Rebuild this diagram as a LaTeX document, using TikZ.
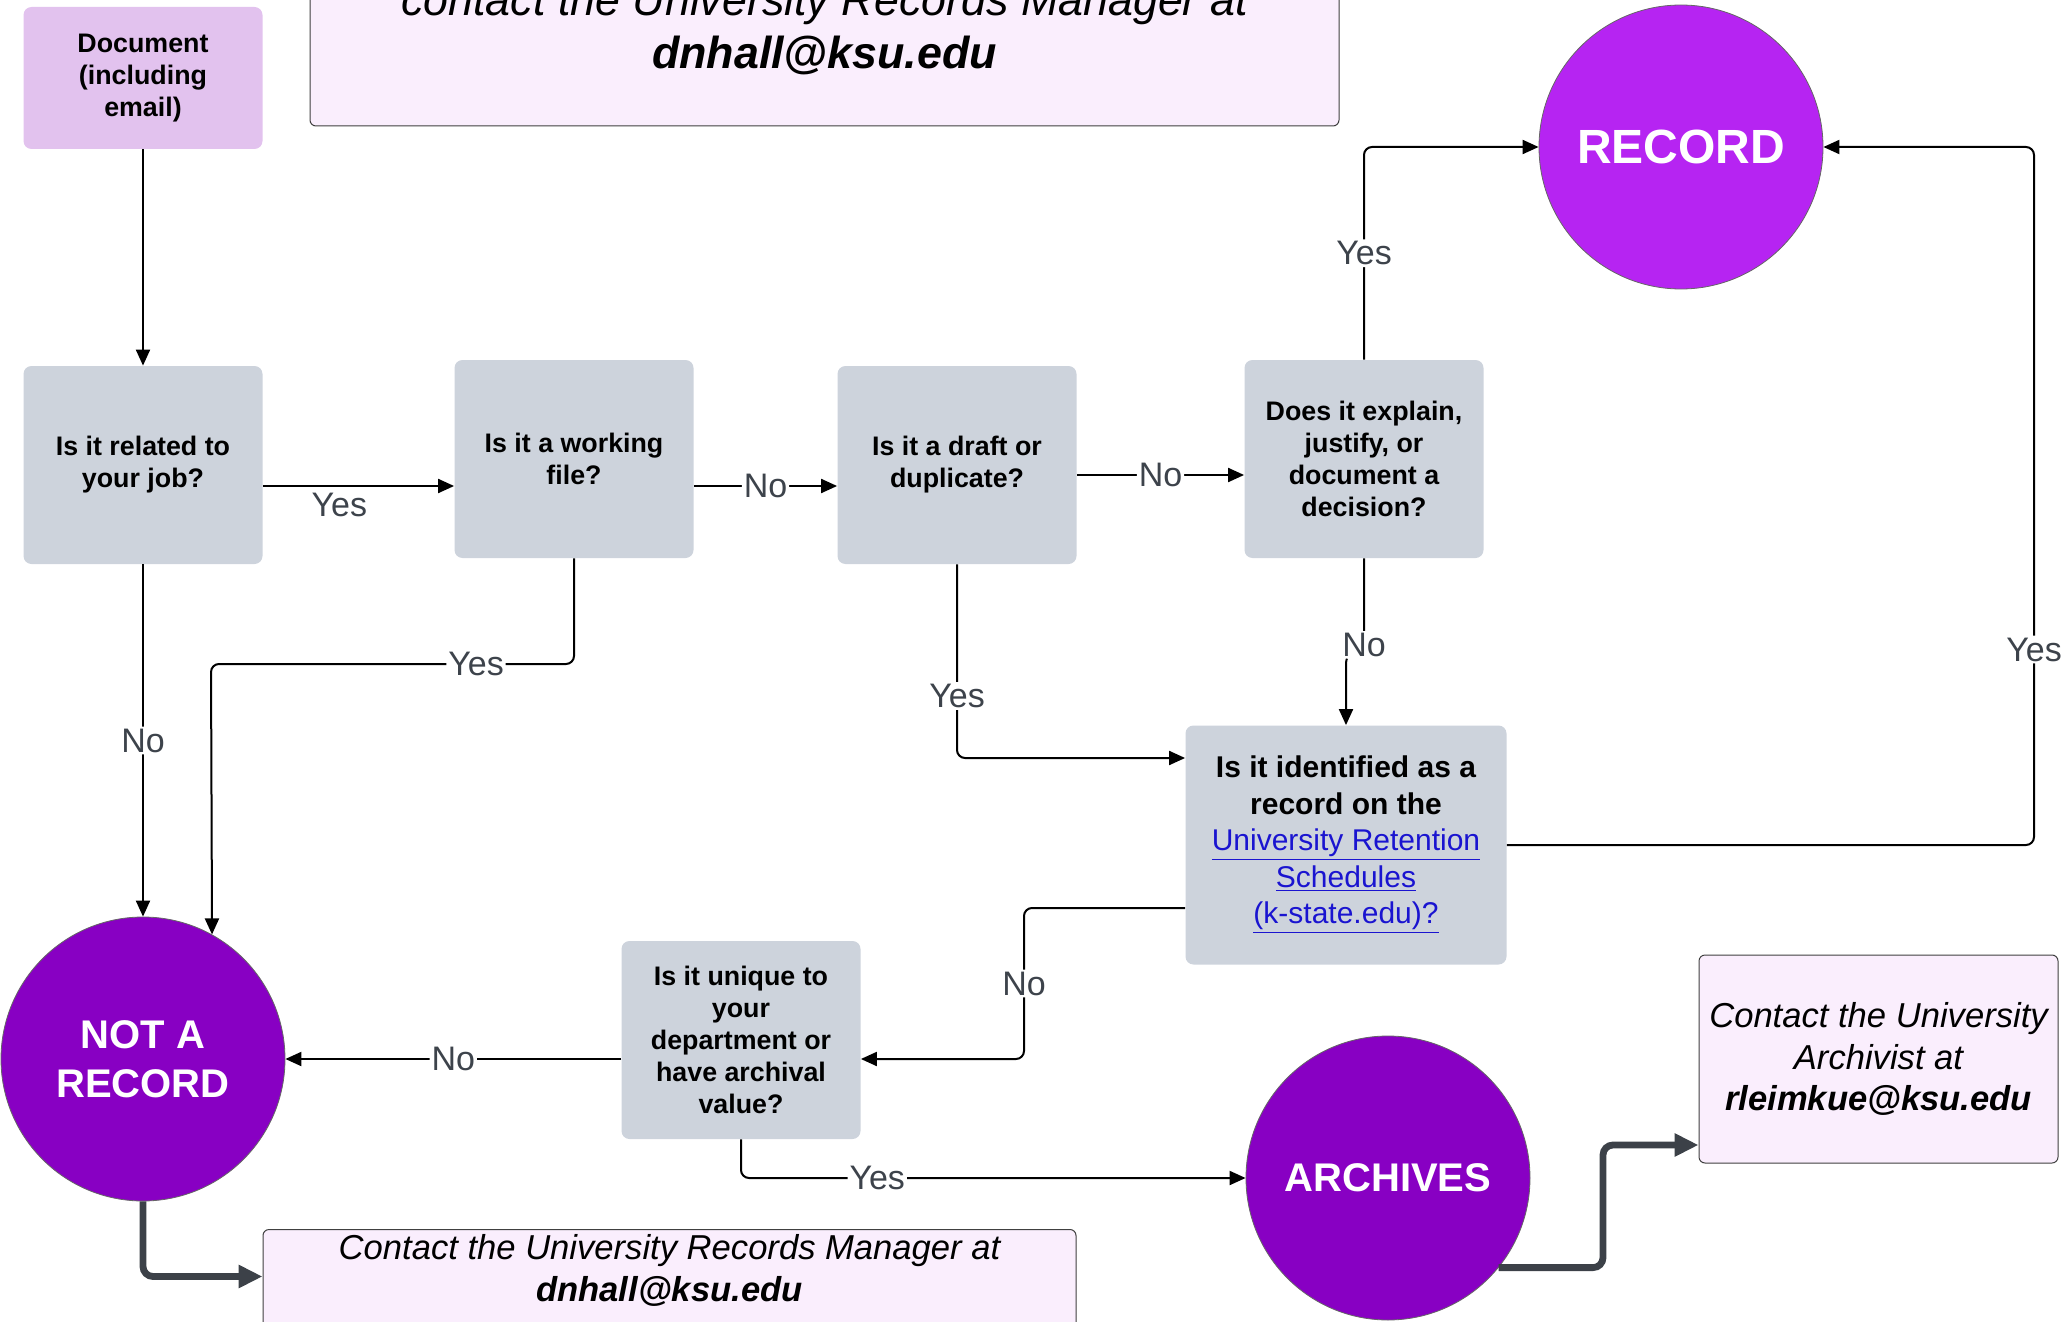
\documentclass[tikz,border=0pt]{standalone}
\usepackage{fontspec}
\setmainfont{Liberation Sans}
\usepackage{tikz}
\usetikzlibrary{positioning, arrows.meta}

\definecolor{qgray}{HTML}{CDD3DC}
\definecolor{docpurple}{HTML}{E2C2EE}
\definecolor{recpurple}{HTML}{B624F2}
\definecolor{endpurple}{HTML}{8800C3}
\definecolor{notefill}{HTML}{FAEEFD}
\definecolor{labelgray}{HTML}{3D434B}
\definecolor{pipegray}{HTML}{3C4148}
\definecolor{linkblue}{HTML}{1A14D0}

\newcommand{\linktext}[1]{\textcolor{linkblue}{\mdseries\underline{#1}}}

\begin{document}
\begin{tikzpicture}[
    x=0.5pt, y=-0.5pt,
    question/.style={rectangle, rounded corners=4pt, fill=qgray, minimum width=119.5pt,
        minimum height=99pt, align=center, inner sep=2pt,
        font=\fontsize{13.4}{16}\selectfont\bfseries},
    start/.style={question, fill=docpurple, minimum height=71pt},
    outcome/.style={circle, draw=black!60, line width=0.4pt, fill=endpurple, minimum size=142pt,
        align=center, text=white, font=\fontsize{20}{24.3}\selectfont\bfseries},
    note/.style={rectangle, rounded corners=3pt, draw=black!75, line width=0.5pt, fill=notefill,
        align=center, inner sep=2pt, font=\fontsize{17.3}{20.6}\selectfont\itshape},
    flow/.style={draw, line width=1pt, rounded corners=4pt, -{Triangle[length=8pt, width=7pt]}},
    pipe/.style={draw=pipegray, line width=3.4pt, rounded corners=5pt, -{Triangle[length=12pt, width=11pt]}},
    answer/.style={fill=white, inner sep=1pt, text=labelgray, font=\fontsize{17}{19}\selectfont}
]
    \useasboundingbox (0,0) rectangle (2063,1322);
    \clip (0,0) rectangle (2063,1322);

    \node[start] (doc) at (143,78) {Document\\(including\\email)};
    \node[note, minimum width=514.5pt, minimum height=97pt,
          font=\fontsize{22.4}{26.5}\selectfont\itshape] (topnote) at (824.5,29)
          {contact the University Records Manager at\\\textbf{dnhall@ksu.edu}};
    \node[outcome, fill=recpurple, font=\fontsize{24}{28}\selectfont\bfseries] (record) at (1681,147) {RECORD};

    \node[question] (job)      at (143,465)  {Is it related to\\your job?};
    \node[question] (working)  at (574,459)  {Is it a working\\file?};
    \node[question] (draft)    at (957,465)  {Is it a draft or\\duplicate?};
    \node[question] (decision) at (1364,459) {Does it explain,\\justify, or\\document a\\decision?};
    \node[question, minimum width=160.5pt, minimum height=119.5pt,
          font=\fontsize{15}{18.2}\selectfont\bfseries] (schedule) at (1346,845)
          {Is it identified as a\\record on the\\\linktext{University Retention}\\\linktext{Schedules}\\\linktext{(k-state.edu)?}};
    \node[question] (unique)   at (741,1040) {Is it unique to\\your\\department or\\have archival\\value?};

    \node[outcome] (notrecord) at (143,1059)  {NOT A\\RECORD};
    \node[outcome] (archives)  at (1388,1178) {ARCHIVES};

    \node[note, minimum width=179.5pt, minimum height=104pt] (archivist) at (1878.5,1059)
          {Contact the University\\Archivist at\\\textbf{rleimkue@ksu.edu}};
    \node[note, minimum width=406.5pt, minimum height=60pt, anchor=north] (manager) at (669.5,1229) {};
    \node[note, draw=none, fill=none] (managertext) at (669.5,1270.5)
          {Contact the University Records Manager at\\\textbf{dnhall@ksu.edu}};

    \coordinate (rightrail) at (2034,147);
    \coordinate (leftrail)  at (211,664);
    \coordinate (midrail)   at (1024,1059);
    \coordinate (pipebend)  at (1603,1145);

    \draw[flow] (doc) -- (job);
    \draw[flow] ([yshift=-10.5pt]job.east) -- node[answer, fill=none, below=2pt, pos=0.4]{Yes}
                ([yshift=-10.5pt]job.east -| working.west);
    \draw[flow] ([yshift=-13.5pt]working.east) -- node[answer]{No} ([yshift=-13.5pt]working.east -| draft.west);
    \draw[flow] ([yshift=-5pt]draft.east) -- node[answer]{No} ([yshift=-5pt]draft.east -| decision.west);
    \draw[flow] (decision.north) |- node[answer, pos=0.25]{Yes} (record.west);
    \draw[flow] (schedule.east) -| node[answer, pos=0.64]{Yes} (rightrail) -- (record.east);
    \draw[flow] (decision.south) -- node[answer, pos=1]{No} (decision.south |- 0,645)
                -- (schedule.north |- 0,655) -- (schedule.north);
    \draw[flow] (draft.south) |- node[answer, pos=0.34]{Yes} (schedule.west |- 0,758);
    \draw[flow] (working.south) |- node[answer, pos=0.635]{Yes} (leftrail) -- (notrecord.61);
    \draw[flow] (job.south) -- node[answer]{No} (notrecord.north);
    \draw[flow] ([yshift=-31.5pt]schedule.west) -| node[answer, pos=0.75]{No} (midrail)
                -- (unique.east |- midrail);
    \draw[flow] (unique.west |- midrail) -- node[answer]{No} (notrecord.east);
    \draw[flow] (unique.south) |- node[answer, pos=0.635]{Yes} (archives.west);

    \draw[pipe] (notrecord.south) |- ([yshift=6.5pt]manager.west);
    \draw[pipe] (archives.-39) -| (pipebend) -- ([yshift=-43pt]archivist.west);
\end{tikzpicture}
\end{document}
